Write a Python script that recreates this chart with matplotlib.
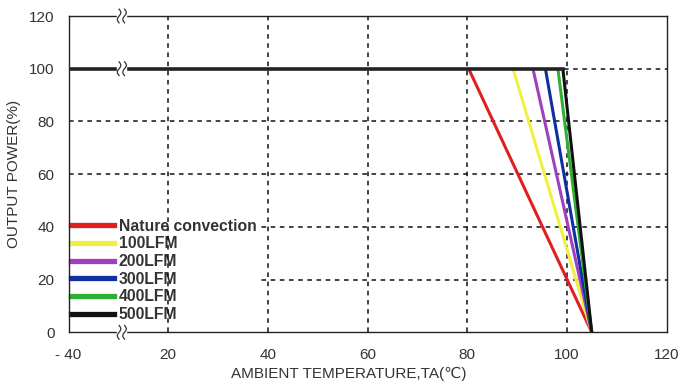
import matplotlib
matplotlib.use("Agg")
import matplotlib.pyplot as plt
import numpy as np

plt.rcParams['font.family'] = ['Liberation Sans', 'DejaVu Sans']

# Data
series_labels = ["Nature convection", "100LFM", "200LFM", "300LFM", "400LFM", "500LFM"]
series_colors = ["#e02020", "#f0f040", "#a040c0", "#1030a0", "#30b030", "#111111"]
derate_start = [80.3, 89.2, 93.2, 95.7, 98.2, 99.2]   # temp where power starts to drop
full_power = 100
zero_temp = 105
x_ticks = [0, 20, 40, 60, 80, 100, 120]
x_tick_labels = ["- 40", "20", "40", "60", "80", "100", "120"]
y_ticks = [0, 20, 40, 60, 80, 100, 120]

W, H = 696, 390
fig = plt.figure(figsize=(W/100, H/100), dpi=100)
L, R, T, B = 68.5, 666.5, 16, 332.3
ax = fig.add_axes([L/W, 1-B/H, (R-L)/W, (B-T)/H])
ax.set_xlim(0, 120)
ax.set_ylim(0, 120)

# grid: vertical lines above legend, horizontal lines below it
for xv in x_ticks[1:-1]:
    ax.axvline(xv, color="#111", lw=1.1, ls=(0, (3, 3)), zorder=2)
for yv in y_ticks[1:-1]:
    ax.axhline(yv, color="#111", lw=1.1, ls=(0, (3, 3)), zorder=1)

# derating lines (sloped part)
handles = []
for lab, col, xs in zip(series_labels, series_colors, derate_start):
    ax.plot([xs, zero_temp], [full_power, 0], color=col, lw=2.2, zorder=3,
            solid_capstyle='butt')
    h, = ax.plot([], [], color=col, lw=3.8, label=lab)
    handles.append(h)

# flat line at 100 (black, thick)
ax.plot([0, derate_start[-1]], [full_power, full_power], color="#222", lw=2.6, zorder=4)

leg = ax.legend(handles=handles, loc="lower left", bbox_to_anchor=(0.0, 0.025),
                frameon=True, framealpha=1, edgecolor="none", facecolor="white",
                prop={'size': 11.3, 'weight': 'bold'}, handlelength=2.75,
                handletextpad=0.3, labelspacing=0.17, borderpad=0.15, borderaxespad=0)
for t in leg.get_texts():
    t.set_color("#333")
leg.set_zorder(1.5)

# axis styling
for s in ax.spines.values():
    s.set_color("#222")
    s.set_linewidth(1.0)
ax.set_xticks(x_ticks)
ax.set_xticklabels(x_tick_labels)
ax.set_yticks(y_ticks)
ax.tick_params(length=0, labelsize=11, colors="#333")
ax.tick_params(axis='x', pad=11.5)
ax.tick_params(axis='y', pad=10)
ax.set_xlabel("AMBIENT TEMPERATURE,TA(\u2103)", fontsize=11, color="#333")
ax.xaxis.set_label_coords((348.5 - L) / (R - L), -0.11)
ax.xaxis.label.set_verticalalignment('top')
ax.set_ylabel("OUTPUT POWER(%)", fontsize=11, color="#333", labelpad=6)

# axis break marks at top, middle line, bottom
bx = 10.7
for yb in [120, 100, 0]:
    ax.add_patch(plt.Rectangle((bx - 0.9, yb - 2.2), 1.8, 4.4, color="white",
                               zorder=5, clip_on=False))
    t = np.linspace(-1, 1, 40)
    for off in (-0.55, 0.55):
        ax.plot(bx + off + 0.35 * np.sin(t * np.pi), yb + t * 2.6, color="#333",
                lw=0.9, zorder=6, clip_on=False)

fig.savefig("out.png", dpi=100)
